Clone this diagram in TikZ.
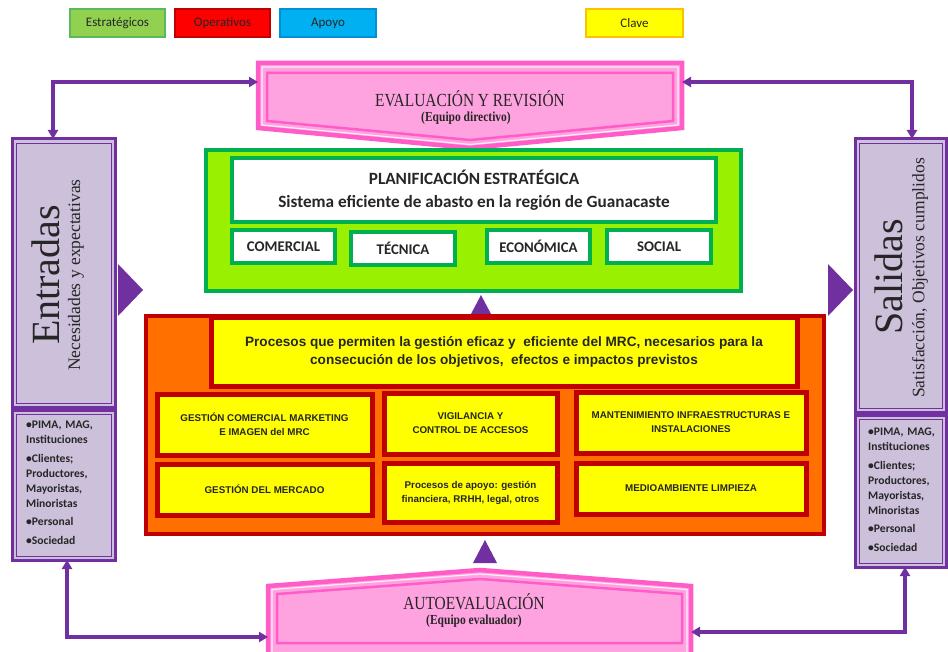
\documentclass[tikz,border=0pt]{standalone}
\usepackage{fontspec}
\usepackage{graphicx}
\setmainfont{Liberation Serif}
\newfontfamily\carl{Carlito}
\newfontfamily\aria{Liberation Sans}
\usetikzlibrary{arrows.meta}
\definecolor{lav}{HTML}{CCC0DA}
\definecolor{purp}{HTML}{7030A0}
\definecolor{pinkfill}{HTML}{FFA3E0}
\definecolor{pinkline}{HTML}{FF5CC8}
\definecolor{lime}{HTML}{99F000}
\definecolor{grn}{HTML}{00B050}
\definecolor{orng}{HTML}{FF7000}
\definecolor{dred}{HTML}{C00000}
\definecolor{yel}{HTML}{FFFF00}
\definecolor{txt}{HTML}{262626}
\definecolor{lgreen}{HTML}{92D050}
\definecolor{lgreenb}{HTML}{5CB85C}
\definecolor{lblue}{HTML}{00B0F0}
\definecolor{lblueb}{HTML}{0090D8}
\definecolor{lyelb}{HTML}{FFC000}
\newcommand\bx[7]{\node[#6, anchor=north west, inner sep=0pt, outer sep=0pt, minimum width={#4-#2}, minimum height={#5-#3}] (#1) at (#2,#3) {#7};}
\newcommand\fsz[2]{\fontsize{#1}{#2}\selectfont}
\newcommand\tall[1]{\scalebox{1}[1.2]{#1}}
\begin{document}
\begin{tikzpicture}[x=1pt,y=-1pt,
  legend/.style={line width=1.2pt, text=txt, font=\carl\fsz{13}{13}},
  purpbox/.style={draw=purp, fill=lav, line width=3pt},
  greenbox/.style={draw=grn, fill=white, line width=4.5pt, font=\carl\bfseries\fsz{14.8}{14.8}, text=txt},
  redbox/.style={draw=dred, fill=yel, line width=5pt, font=\aria\bfseries\fsz{9.8}{14}, align=center, text=txt},
  conn/.style={draw=purp, line width=3.2pt, {Triangle[length=9pt,width=10pt]}-{Triangle[length=9pt,width=10pt]}},
  bul/.style={anchor=north west, align=left, text width=88pt, inner sep=0pt, font=\carl\bfseries\fsz{11.6}{15}, text=txt},
  pent/.style={fill=pinkfill, draw=pinkline, line width=4.5pt, line join=miter},
  pentw/.style={draw=white, line width=1.2pt, opacity=0.8},
  penti/.style={draw=pinkline, line width=2.5pt},
  ptitle/.style={inner sep=0.5pt, text=txt, font=\fsz{15.4}{15.4}},
  psub/.style={inner sep=0.5pt, text=txt, font=\bfseries\fsz{11.5}{11.5}}
]
\useasboundingbox (0,0) rectangle (948,652);
\clip (0,0) rectangle (948,652);

% legend
\bx{est}{70}{9}{165}{37}{legend, draw=lgreenb, fill=lgreen}{Estratégicos}
\bx{ope}{175}{9}{270}{37}{legend, draw=red!75!black, fill=red}{Operativos}
\bx{apo}{280}{9}{376}{37}{legend, draw=lblueb, fill=lblue}{Apoyo}
\bx{cla}{586}{9}{683}{37}{legend, draw=lyelb, fill=yel}{Clave}

% purple triangles
\fill[purp] (118,264) -- (118,316) -- (143,290) -- cycle;
\fill[purp] (828,264) -- (828,316) -- (853,290) -- cycle;
\fill[purp] (481,295) -- (491,314) -- (471,314) -- cycle;
\fill[purp] (485,540) -- (497,563) -- (473,563) -- cycle;

% top pentagon
\path[pent] (258,63) -- (682,63) -- (682,128) -- (470,148) -- (258,128) -- cycle;
\path[pentw] (262,67) -- (678,67) -- (678,125) -- (470,144.5) -- (262,125) -- cycle;
\path[penti] (267,73) -- (673,73) -- (673,121) -- (470,140) -- (267,121) -- cycle;
\node[ptitle] (evt) at (470,98.5) {\tall{EVALUACIÓN Y REVISIÓN}};
\node[psub] (evs) at (466,118.5) {\tall{(Equipo directivo)}};
\coordinate (evalL) at (258,82);
\coordinate (evalR) at (682,82);

% bottom pentagon
\path[pent] (268,586) -- (480,570) -- (691,586) -- (691,660) -- (268,660) -- cycle;
\path[pentw] (272,589.5) -- (480,574) -- (687,589.5) -- (687,655) -- (272,655) -- cycle;
\path[penti] (277,594) -- (480,579) -- (682,594) -- (682,643) -- (277,643) -- cycle;
\node[ptitle] (aut) at (474,601.5) {\tall{AUTOEVALUACIÓN}};
\node[psub] (aus) at (474,621) {\tall{(Equipo evaluador)}};
\coordinate (autoL) at (268,637);
\coordinate (autoR) at (691,632);

% Entradas
\bx{entU}{12}{139}{115}{407}{purpbox}{}
\bx{entL}{12}{410}{115}{560}{purpbox}{}
\draw[purp, line width=0.8pt] ([shift={(4,4)}]entU.north west) rectangle ([shift={(-4,-4)}]entU.south east);
\draw[purp, line width=0.8pt] ([shift={(4,4)}]entL.north west) rectangle ([shift={(-4,-4)}]entL.south east);
\node[rotate=90, font=\fsz{40}{40}, text=txt] (entT) at (46,275) {Entradas};
\node[rotate=90, font=\fsz{17.5}{17.5}, text=txt] (entS) at (76,275) {Necesidades y expectativas};
\node[bul] (entB) at (26,421) {•PIMA, MAG,\\ Instituciones\\[4pt] •Clientes;\\ Productores,\\ Mayoristas,\\ Minoristas\\[3pt] •Personal\\[4pt] •Sociedad};

% Salidas
\bx{salU}{855}{139}{946}{412}{purpbox}{}
\bx{salL}{855}{415}{946}{567}{purpbox}{}
\draw[purp, line width=0.8pt] ([shift={(4,4)}]salU.north west) rectangle ([shift={(-4,-4)}]salU.south east);
\draw[purp, line width=0.8pt] ([shift={(4,4)}]salL.north west) rectangle ([shift={(-4,-4)}]salL.south east);
\node[rotate=90, font=\fsz{40}{40}, text=txt] (salT) at (889,277) {Salidas};
\node[rotate=90, font=\fsz{17.5}{17.5}, text=txt] (salS) at (920,278) {Satisfacción, Objetivos cumplidos};
\node[bul] (salB) at (868,428) {•PIMA, MAG,\\ Instituciones\\[4pt] •Clientes;\\ Productores,\\ Mayoristas,\\ Minoristas\\[3pt] •Personal\\[4pt] •Sociedad};

% connectors
\draw[conn] (evalL) -| ([xshift=-10.5pt]entU.north);
\draw[conn] (evalR) -| ([xshift=11.5pt]salU.north);
\draw[conn] ([xshift=3.5pt]entL.south) |- (autoL);
\draw[conn] ([xshift=4.5pt]salL.south) |- (autoR);

% green area
\bx{grn}{206}{150}{741}{291}{draw=grn, fill=lime, line width=4pt}{}
\bx{plan}{232}{158}{716}{222}{greenbox, align=center, font=\carl\bfseries\fsz{17.2}{23}}{PLANIFICACIÓN ESTRATÉGICA\\Sistema eficiente de abasto en la región de Guanacaste}
\bx{com}{232}{230}{335}{263}{greenbox}{COMERCIAL}
\bx{tec}{351}{232}{455}{265}{greenbox}{TÉCNICA}
\bx{eco}{487}{230}{590}{263}{greenbox}{ECONÓMICA}
\bx{soc}{607}{230}{711}{263}{greenbox}{SOCIAL}

% orange area
\bx{org}{146}{316}{824}{534}{draw=dred, fill=orng, line width=4pt}{}
\bx{proc}{211}{318}{797}{386}{redbox, font=\aria\bfseries\fsz{13.6}{18}}{Procesos que permiten la gestión eficaz y \ eficiente del MRC, necesarios para la\\consecución de los objetivos, \ efectos e impactos previstos}
\bx{b1}{157}{394}{372}{455}{redbox}{GESTIÓN COMERCIAL MARKETING\\E IMAGEN del MRC}
\bx{b2}{384}{393}{557}{454}{redbox}{VIGILANCIA Y\\CONTROL DE ACCESOS}
\bx{b3}{576}{392}{806}{453}{redbox}{MANTENIMIENTO INFRAESTRUCTURAS E\\INSTALACIONES}
\bx{b4}{157}{464}{372}{515}{redbox}{GESTIÓN DEL MERCADO}
\bx{b5}{384}{463}{557}{522}{redbox}{Procesos de apoyo: gestión\\financiera, RRHH, legal, otros}
\bx{b6}{576}{463}{806}{514}{redbox}{MEDIOAMBIENTE LIMPIEZA}
\end{tikzpicture}
\end{document}
